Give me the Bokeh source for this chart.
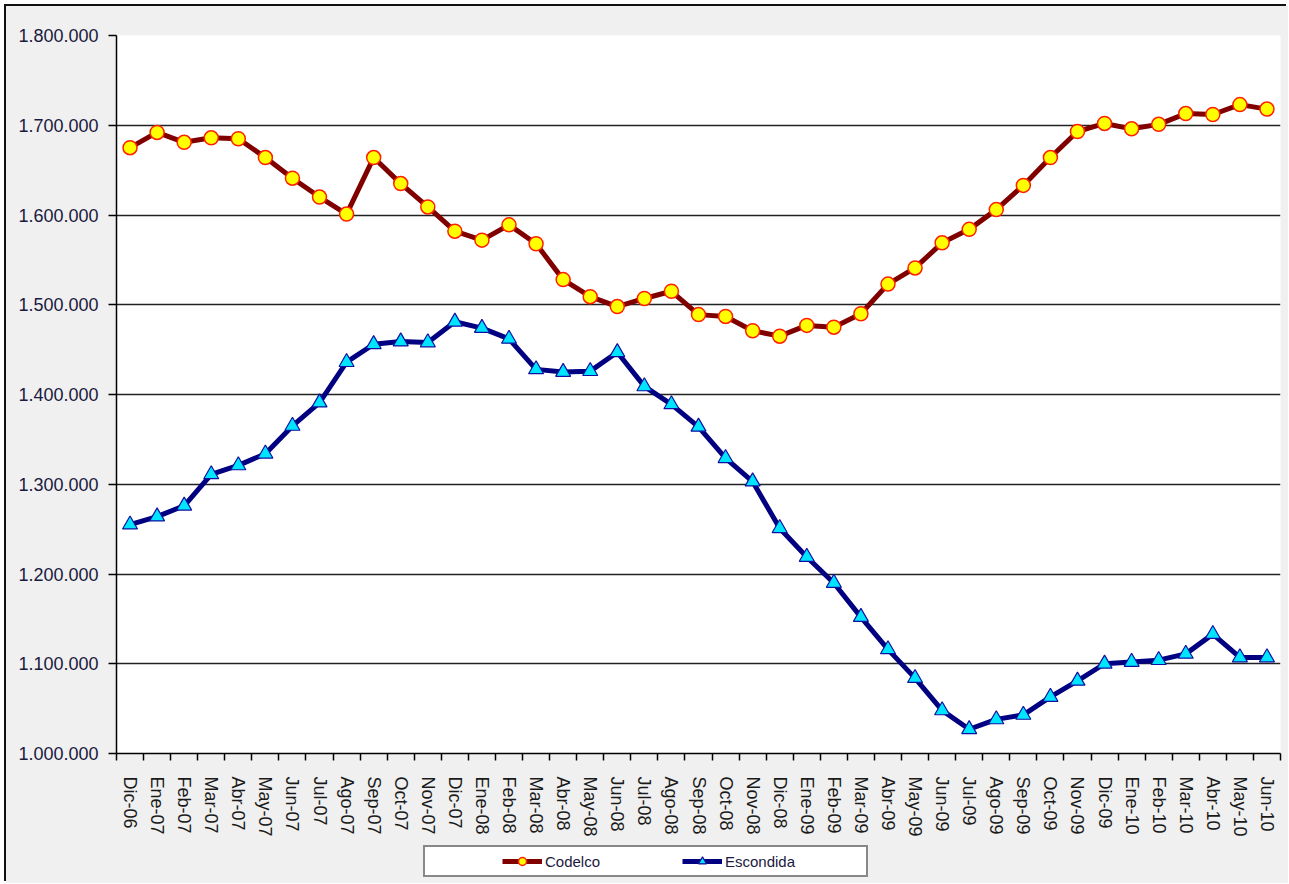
import math
from bokeh.plotting import figure
from bokeh.layouts import column
from bokeh.models import (Range1d, FixedTicker, Legend, LegendItem)
from bokeh.embed import file_html
from bokeh.resources import INLINE

months = ["Dic-06", "Ene-07", "Feb-07", "Mar-07", "Abr-07", "May-07", "Jun-07", "Jul-07",
          "Ago-07", "Sep-07", "Oct-07", "Nov-07", "Dic-07", "Ene-08", "Feb-08", "Mar-08",
          "Abr-08", "May-08", "Jun-08", "Jul-08", "Ago-08", "Sep-08", "Oct-08", "Nov-08",
          "Dic-08", "Ene-09", "Feb-09", "Mar-09", "Abr-09", "May-09", "Jun-09", "Jul-09",
          "Ago-09", "Sep-09", "Oct-09", "Nov-09", "Dic-09", "Ene-10", "Feb-10", "Mar-10",
          "Abr-10", "May-10", "Jun-10"]

codelco = [1675000, 1692000, 1681000, 1686000, 1685000, 1664000, 1641000, 1620000,
           1601000, 1664000, 1635000, 1609000, 1582000, 1572000, 1589000, 1568000,
           1528000, 1509000, 1498000, 1507000, 1515000, 1489000, 1487000, 1471000,
           1465000, 1477000, 1475000, 1490000, 1523000, 1541000, 1569000, 1584000,
           1606000, 1633000, 1664000, 1693000, 1702000, 1696000, 1701000, 1713000,
           1712000, 1723000, 1718000]

escondida = [1255000, 1264000, 1276000, 1311000, 1321000, 1334000, 1365000, 1391000,
             1436000, 1456000, 1459000, 1458000, 1481000, 1474000, 1462000, 1428000,
             1425000, 1426000, 1447000, 1409000, 1389000, 1364000, 1329000, 1303000,
             1251000, 1219000, 1190000, 1152000, 1116000, 1084000, 1048000, 1027000,
             1038000, 1043000, 1063000, 1081000, 1100000, 1102000, 1104000, 1111000,
             1133000, 1107000, 1107000]

series_names = ["Codelco", "Escondida"]

y_ticks = [1000000, 1100000, 1200000, 1300000, 1400000, 1500000, 1600000, 1700000, 1800000]
y_tick_labels = ["1.000.000", "1.100.000", "1.200.000", "1.300.000", "1.400.000",
                 "1.500.000", "1.600.000", "1.700.000", "1.800.000"]

FONT = "Liberation Sans"
BG = "#f0f0f0"

n = len(months)
xc = [i + 0.5 for i in range(n)]

C_LINE, C_FILL, C_EDGE = "#800000", "#ffff00", "#ff2000"
E_LINE, E_FILL, E_EDGE = "#000080", "#00e5ff", "#1010a0"

p = figure(width=1282, height=834, output_backend="svg", toolbar_location=None,
           x_range=Range1d(0, n), y_range=Range1d(y_ticks[0], y_ticks[-1]),
           min_border_left=110, min_border_right=8, min_border_top=29, min_border_bottom=87)
p.border_fill_color = BG
p.background_fill_color = "white"
p.outline_line_color = None

# grid
p.xgrid.visible = False
p.ygrid.ticker = FixedTicker(ticks=y_ticks)
p.ygrid.grid_line_color = "#222222"
p.ygrid.grid_line_width = 1.5

# y axis
ya = p.yaxis[0]
ya.ticker = FixedTicker(ticks=y_ticks)
ya.major_label_overrides = {t: l for t, l in zip(y_ticks, y_tick_labels)}
ya.major_label_text_font = FONT
ya.major_label_text_font_size = "18px"
ya.major_label_text_color = "#1a1a40"
ya.axis_line_color = "black"
ya.axis_line_width = 1.5
ya.major_tick_out = 8
ya.major_tick_in = 0
ya.major_tick_line_color = "black"
ya.major_tick_line_width = 1.5
ya.minor_tick_line_color = None
ya.major_label_standoff = 10

# x axis
xa = p.xaxis[0]
xa.ticker = FixedTicker(ticks=xc, minor_ticks=list(range(n + 1)))
xa.major_label_overrides = {x: m for x, m in zip(xc, months)}
xa.major_label_orientation = -math.pi / 2
xa.major_label_text_font = FONT
xa.major_label_text_font_size = "18px"
xa.major_label_text_color = "#1a1a1a"
xa.axis_line_color = "black"
xa.axis_line_width = 1.5
xa.major_tick_out = 0
xa.major_tick_in = 0
xa.minor_tick_out = 7
xa.minor_tick_in = 0
xa.minor_tick_line_color = "black"
xa.minor_tick_line_width = 1.5
xa.major_label_standoff = 16

# series
p.line(xc, codelco, line_color=C_LINE, line_width=5)
p.scatter(xc, codelco, marker="circle", size=14, fill_color=C_FILL,
          line_color=C_EDGE, line_width=1.5)
p.line(xc, escondida, line_color=E_LINE, line_width=5)
p.scatter(xc, escondida, marker="triangle", size=15, fill_color=E_FILL,
          line_color=E_EDGE, line_width=1.2)

# legend strip (separate small figure under the chart; its series lie outside its range)
p2 = figure(width=1282, height=43, output_backend="svg", toolbar_location=None,
            x_range=Range1d(0, 1), y_range=Range1d(0, 1),
            x_axis_location=None, y_axis_location=None,
            min_border_left=0, min_border_right=0, min_border_top=0, min_border_bottom=0)
p2.border_fill_color = BG
p2.background_fill_color = BG
p2.outline_line_color = None
p2.grid.visible = False

k1 = p2.line(xc, codelco, line_color=C_LINE, line_width=5)
k1m = p2.scatter(xc, codelco, marker="circle", size=14, fill_color=C_FILL,
                 line_color=C_EDGE, line_width=1.5)
k2 = p2.line(xc, escondida, line_color=E_LINE, line_width=5)
k2m = p2.scatter(xc, escondida, marker="triangle", size=15, fill_color=E_FILL,
                 line_color=E_EDGE, line_width=1.2)

leg = Legend(items=[LegendItem(label=series_names[0], renderers=[k1, k1m]),
                    LegendItem(label=series_names[1], renderers=[k2, k2m])],
             location=(307, 6), orientation="horizontal",
             title=" ", title_location="left", title_standoff=56,
             title_text_font_size="15px",
             padding=4, margin=0, glyph_width=40, glyph_height=20, label_height=20,
             label_standoff=3, label_width=137, spacing=0,
             border_line_color="#111111", border_line_width=2,
             background_fill_color="white", background_fill_alpha=1,
             label_text_font=FONT, label_text_font_size="15px",
             label_text_color="#1a1a40")
p2.add_layout(leg)

layout = column(p, p2, spacing=0,
                styles={"margin": "6px 0 0 6px", "background": BG,
                        "box-shadow": "-2px -2px 0 0 #111"})

open("out.html", "w").write(file_html(layout, INLINE))
